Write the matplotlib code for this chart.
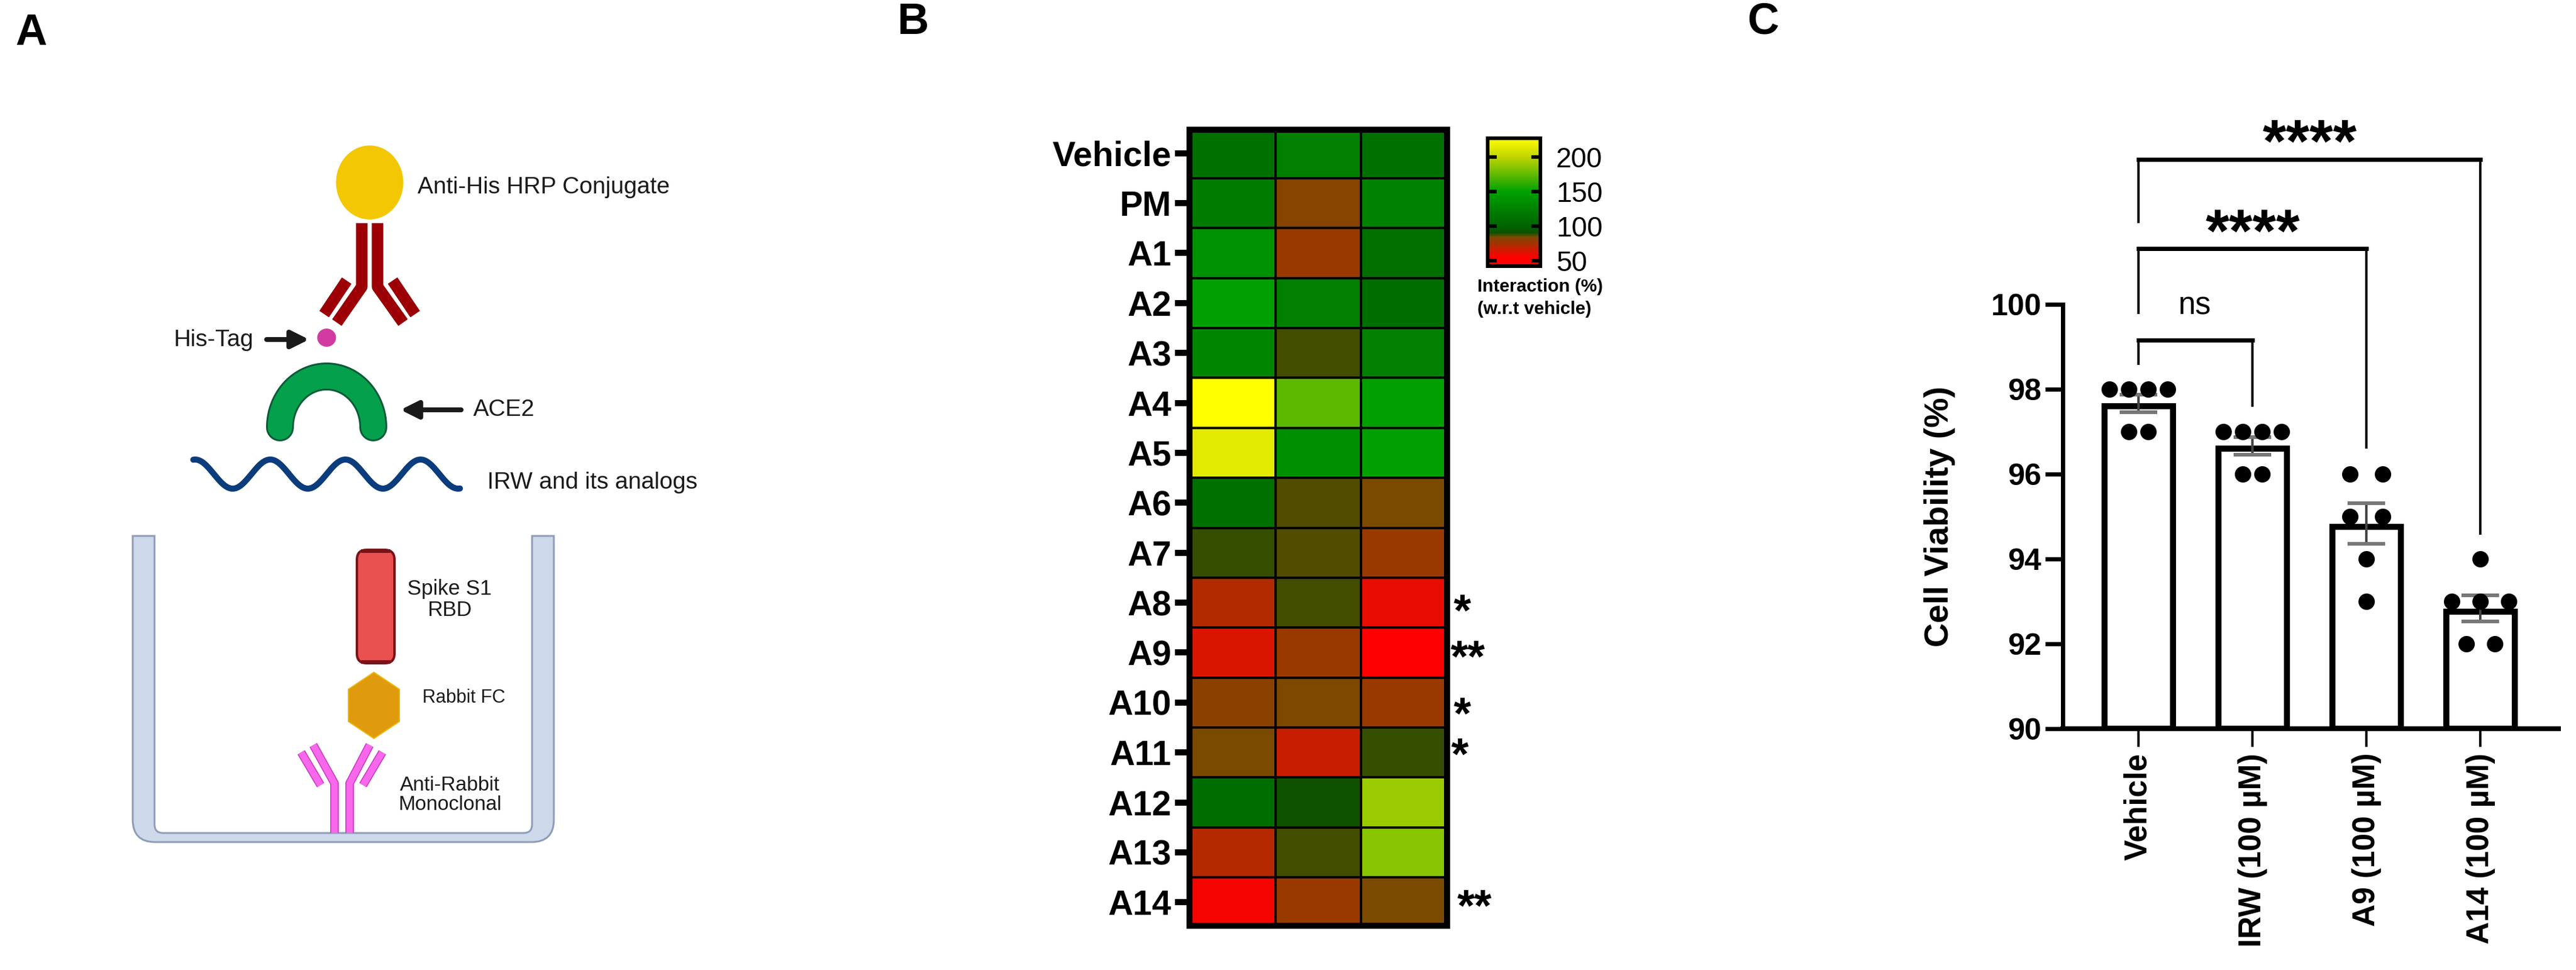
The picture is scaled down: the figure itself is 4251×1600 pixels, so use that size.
import numpy as np
import matplotlib
matplotlib.use('Agg')
import matplotlib.pyplot as plt
from matplotlib.colors import LinearSegmentedColormap, Normalize
from matplotlib.patches import Ellipse, Polygon, FancyBboxPatch, PathPatch
from matplotlib.path import Path

plt.rcParams['font.family'] = ['Liberation Sans', 'DejaVu Sans']

W, H = 4251, 1600
DPI = 100

# heatmap data (Interaction %, w.r.t vehicle), three replicates per row
heat_labels = ['Vehicle', 'PM', 'A1', 'A2', 'A3', 'A4', 'A5', 'A6', 'A7',
               'A8', 'A9', 'A10', 'A11', 'A12', 'A13', 'A14']
heat_col1 = [110, 119, 137, 150, 127, 227, 214, 110, 88.6, 72.5, 63.6, 81, 84.5, 108, 72, 57.4]
heat_col2 = [123, 81.5, 78, 123, 87.6, 174, 136, 86.6, 86.7, 87.5, 78, 84, 67.2, 91, 87.2, 78]
heat_col3 = [111, 125, 109, 107.5, 122, 150, 150, 84.5, 78, 60, 50, 78.3, 88.3, 190, 185.5, 84.5]
heat_marks = {'A8': '*', 'A9': '**', 'A10': '*', 'A11': '*', 'A14': '**'}
cbar_ticks = [50, 100, 150, 200]

# cell viability data
groups = ['Vehicle', 'IRW (100 µM)', 'A9 (100 µM)', 'A14 (100 µM)']
vehicle_pts = [98, 98, 98, 98, 97, 97]
irw_pts = [97, 97, 97, 97, 96, 96]
a9_pts = [96, 96, 95, 95, 94, 93]
a14_pts = [94, 93, 93, 93, 92, 92]
viability_ticks = [90, 92, 94, 96, 98, 100]
dot_spacing_px = [32, 32, 54, 47]


def lw(n):
    # pixels to points
    return n * 72 / DPI


def add_axes_px(fig, left, top, right, bottom):
    return fig.add_axes([left / W, 1 - bottom / H, (right - left) / W, (bottom - top) / H])


fig = plt.figure(figsize=(W / DPI, H / DPI), dpi=DPI, facecolor='white')

# overlay in pixel coordinates, for the schematic and free text
ov = fig.add_axes([0, 0, 1, 1])
ov.set_xlim(0, W)
ov.set_ylim(H, 0)
ov.axis('off')

for label, x in zip('ABC', [51, 1506, 2910]):
    ov.text(x, 55 if label == 'A' else 37, label, fontsize=52, fontweight='bold', ha='center', va='center')


# ---- panel A: schematic ----
def stroke(xs, ys, color, width, edge=None, edge_w=0, cap='butt', z=3):
    if edge:
        ov.plot(xs, ys, color=edge, lw=lw(width + edge_w), solid_capstyle=cap, solid_joinstyle='round', zorder=z)
    ov.plot(xs, ys, color=color, lw=lw(width), solid_capstyle=cap, solid_joinstyle='round', zorder=z + 0.1)


def arrow(x0, y, x1):
    ov.annotate('', xy=(x1, y), xytext=(x0, y),
                arrowprops=dict(arrowstyle='-|>', color='#1a1a1a', lw=lw(8), mutation_scale=44,
                                shrinkA=0, shrinkB=0))


# well
verts = [(219, 884), (219, 1352), (219, 1389), (256, 1389), (877, 1389), (914, 1389), (914, 1352), (914, 884),
         (878, 884), (878, 1360), (878, 1374), (864, 1374), (269, 1374), (255, 1374), (255, 1360), (255, 884),
         (219, 884)]
codes = [Path.MOVETO, Path.LINETO, Path.CURVE3, Path.CURVE3, Path.LINETO, Path.CURVE3, Path.CURVE3, Path.LINETO,
         Path.LINETO, Path.LINETO, Path.CURVE3, Path.CURVE3, Path.LINETO, Path.CURVE3, Path.CURVE3, Path.LINETO,
         Path.CLOSEPOLY]
ov.add_patch(PathPatch(Path(verts, codes), facecolor='#cdd8ea', edgecolor='#8e9db6', lw=lw(3), zorder=2))

# HRP conjugate and its antibody
ov.add_patch(Ellipse((610, 301), 111, 122, facecolor='#f3c704', edgecolor='none', zorder=3))
stroke([597, 597, 556], [368, 473, 532], '#9c0006', 18, '#7d0000', 1)
stroke([623, 623, 665], [368, 473, 532], '#9c0006', 18, '#7d0000', 1)
stroke([572, 535], [463, 518], '#9c0006', 18, '#7d0000', 1)
stroke([648, 685], [463, 518], '#9c0006', 18, '#7d0000', 1)
ov.add_patch(Ellipse((539, 557), 31, 30, facecolor='#d13ba1', edgecolor='none', zorder=3))

# ACE2 arch
t = np.linspace(np.pi, 0, 60)
arch_x = 539 + 77 * np.cos(t)
arch_y = 705 - 84 * np.sin(t)
stroke(arch_x, arch_y, '#05a04c', 40, '#0b5a3a', 6, cap='round')

# peptide wave
wave_x = np.linspace(319, 759, 200)
wave_y = 782 - 24 * np.cos(2 * np.pi * (wave_x - 446) / 124)
ov.plot(wave_x, wave_y, color='#0b3c7c', lw=lw(10), solid_capstyle='round', zorder=3)

# spike RBD, rabbit FC
ov.add_patch(FancyBboxPatch((589, 907), 62, 187, boxstyle='round,pad=0,rounding_size=16', facecolor='#e95050',
                            edgecolor='#7a1218', lw=lw(4), zorder=3))
stroke([596, 644], [909, 909], '#7a1218', 6, z=4)
stroke([596, 644], [1092, 1092], '#7a1218', 6, z=4)
ov.add_patch(Polygon([(617, 1109), (659, 1137), (659, 1190), (617, 1218), (575, 1190), (575, 1137)],
                     closed=True, facecolor='#df9a0e', edgecolor='#f0b400', lw=lw(2), zorder=3))

# anti-rabbit antibody
pink = '#f968ea'
pink_edge = '#c634c4'
stroke([552, 552, 517], [1374, 1292, 1229], pink, 11, pink_edge, 3)
stroke([577, 577, 610], [1374, 1292, 1229], pink, 11, pink_edge, 3)
stroke([497, 529], [1241, 1295], pink, 11, pink_edge, 3)
stroke([631, 599], [1241, 1295], pink, 11, pink_edge, 3)

arrow(440, 560, 510)
arrow(761, 676, 661)

for s, x, y, size, ha in [('Anti-His HRP Conjugate', 689, 309, 28, 'left'),
                          ('His-Tag', 287, 561, 28, 'left'),
                          ('ACE2', 781, 676, 28, 'left'),
                          ('IRW and its analogs', 804, 796, 28, 'left'),
                          ('Spike S1', 742, 971, 25, 'center'),
                          ('RBD', 742, 1007, 25, 'center'),
                          ('Rabbit FC', 765, 1151, 22, 'center'),
                          ('Anti-Rabbit', 742, 1296, 24, 'center'),
                          ('Monoclonal', 742, 1328, 24, 'center')]:
    ov.text(x, y, s, fontsize=size, color='#1a1a1a', ha=ha, va='center')

# ---- panel B: heatmap ----
stops = [(42.5, '#ff0000'), (55, '#ff0000'), (84.5, '#7a4a00'), (90, '#105000'), (100, '#006400'),
         (150, '#00a000'), (200, '#c0d400'), (227, '#ffff00')]
vmin, vmax = stops[0][0], stops[-1][0]
cmap = LinearSegmentedColormap.from_list('interaction', [((v - vmin) / (vmax - vmin), c) for v, c in stops])
norm = Normalize(vmin, vmax)

heat = np.column_stack([heat_col1, heat_col2, heat_col3])
ax_h = add_axes_px(fig, 1963, 214, 2388, 1527)
mesh = ax_h.pcolormesh(heat, cmap=cmap, norm=norm, edgecolors='black', linewidth=lw(3.5))
ax_h.set_xlim(0, 3)
ax_h.set_ylim(15.97, 0.03)
ax_h.set_xticks([])
ax_h.set_yticks(np.arange(len(heat_labels)) + 0.5)
ax_h.set_yticklabels(heat_labels, fontsize=41, fontweight='bold')
ax_h.tick_params(axis='y', length=lw(24), width=lw(10), pad=lw(6))
for sp in ax_h.spines.values():
    sp.set_linewidth(lw(10))

star_pos = {'A8': (2413, 1012), 'A9': (2422, 1088), 'A10': (2413, 1182), 'A11': (2409, 1249), 'A14': (2433, 1499)}
for name, mark in heat_marks.items():
    ov.text(star_pos[name][0], star_pos[name][1], mark, fontsize=53, fontweight='bold', ha='center', va='center')

cax = add_axes_px(fig, 2455, 228, 2542, 439)
cb = fig.colorbar(mesh, cax=cax, ticks=cbar_ticks)
cb.outline.set_linewidth(lw(6))
cax.tick_params(axis='y', direction='in', left=True, right=True, length=lw(15), width=lw(6), labelsize=33,
                pad=lw(26))
ov.text(2438, 473, 'Interaction (%)', fontsize=21.5, fontweight='bold', ha='left', va='center')
ov.text(2438, 510, '(w.r.t vehicle)', fontsize=21.5, fontweight='bold', ha='left', va='center')

# ---- panel C: bars ----
points = [vehicle_pts, irw_pts, a9_pts, a14_pts]
means = [np.mean(p) for p in points]
sems = [np.std(p, ddof=1) / np.sqrt(len(p)) for p in points]

ax = add_axes_px(fig, 3404, 502, 4222, 1202)
ax.patch.set_alpha(0)
px_x = 188  # pixels per category
px_y = 70   # pixels per percent
ax.set_xlim(-125 / px_x, 693 / px_x)
ax.set_ylim(90, 100)
x = np.arange(len(groups))

# bar outline sits inside the value, as in Prism
inset = 5 / px_y
ax.bar(x, np.array(means) - 90 - inset, bottom=90, width=113 / px_x, facecolor='white', edgecolor='black',
       lw=lw(10), zorder=2)
err = ax.errorbar(x, means, yerr=sems, fmt='none', ecolor='#444444', elinewidth=lw(4), capsize=lw(31),
                  capthick=lw(6), zorder=3)
for cap in err[1]:
    cap.set_markeredgecolor('#777777')
for i, pts in enumerate(points):
    vals, counts = np.unique(pts, return_counts=True)
    for v, n in zip(vals, counts):
        off = (np.arange(n) - (n - 1) / 2) * dot_spacing_px[i] / px_x
        ax.scatter(x[i] + off, [v] * n, s=lw(27) ** 2, color='black', linewidths=0, zorder=4, clip_on=False)

for sp in ['top', 'right']:
    ax.spines[sp].set_visible(False)
ax.spines['left'].set_linewidth(lw(7))
ax.spines['bottom'].set_linewidth(lw(8))
ax.set_yticks(viability_ticks)
ax.set_yticklabels(viability_ticks, fontsize=36, fontweight='bold')
ax.tick_params(axis='y', length=lw(29), width=lw(7), pad=lw(6))
ax.set_xticks(x)
ax.set_xticklabels(groups, rotation=90, fontsize=37, fontweight='bold', ha='center', va='top')
ax.tick_params(axis='x', length=lw(30), width=lw(4), pad=lw(10))
ax.set_ylabel('Cell Viability (%)', fontsize=40, fontweight='bold')
ax.yaxis.set_label_coords(-177 / 818, 0.5)

brackets = [(1, 99.16, 98.57, 97.59, 'ns', 3622, 505),
            (2, 101.31, 99.77, 96.60, '****', 3718, 389),
            (3, 103.41, 101.91, 94.57, '****', 3812, 241)]
for j, top, left_end, right_end, label, lx, ly in brackets:
    ax.plot([0, 0], [left_end, top], color='black', lw=lw(4), clip_on=False, solid_capstyle='butt', zorder=5)
    ax.plot([j, j], [right_end, top], color='black', lw=lw(4), clip_on=False, solid_capstyle='butt', zorder=5)
    ax.plot([0, j], [top, top], color='black', lw=lw(7), clip_on=False, solid_capstyle='projecting', zorder=5)
    if label == 'ns':
        ov.text(lx, ly, label, fontsize=37, ha='center', va='center')
    else:
        ov.text(lx, ly, label, fontsize=72, fontweight='bold', ha='center', va='center')

fig.savefig('out.png', dpi=DPI)
plt.close(fig)
